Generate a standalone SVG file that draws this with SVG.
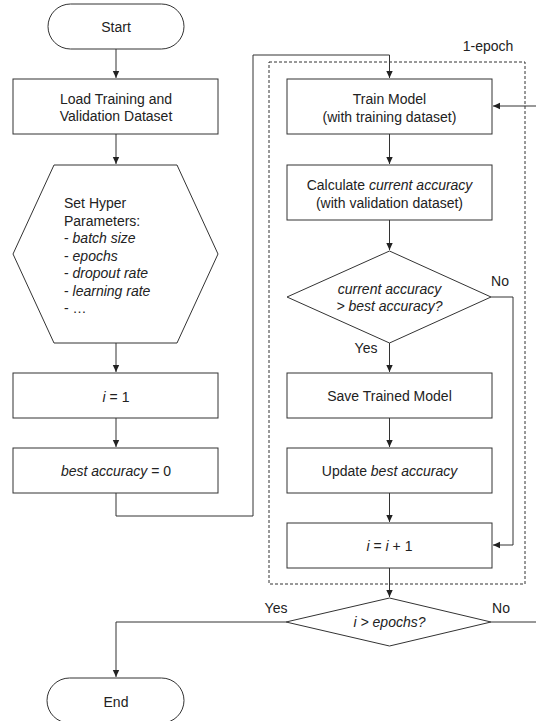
<svg xmlns="http://www.w3.org/2000/svg" width="536" height="721" viewBox="0 0 536 721">
<style>
.s{fill:#fff;stroke:#333;stroke-width:1}
.t{font-family:"Liberation Sans",Arial,sans-serif;font-size:14px;fill:#222;text-anchor:middle}
.l{text-anchor:start}
.i{font-style:italic}
.c{fill:none;stroke:#333;stroke-width:1}
</style>
<defs>
<marker id="a" markerWidth="8" markerHeight="8" refX="7" refY="4" orient="auto" markerUnits="userSpaceOnUse">
<path d="M0,0.8 L7,4 L0,7.2 Z" fill="#222"/>
</marker>
</defs>
<rect width="536" height="721" fill="#fff"/>
<g id="frame">
<rect x="269" y="62" width="256" height="522" fill="none" stroke="#333" stroke-width="1" stroke-dasharray="3,2"/>
<text class="t" x="488" y="51">1-epoch</text>
</g>
<g id="connectors">
<path class="c" d="M116,49 V78" marker-end="url(#a)"/>
<path class="c" d="M116,134 V164" marker-end="url(#a)"/>
<path class="c" d="M116,343 V372" marker-end="url(#a)"/>
<path class="c" d="M116,418 V447" marker-end="url(#a)"/>
<path class="c" d="M116,493 V516 H253 V55 H389.5 V78" marker-end="url(#a)"/>
<path class="c" d="M389.5,134 V164" marker-end="url(#a)"/>
<path class="c" d="M389.5,220 V250" marker-end="url(#a)"/>
<path class="c" d="M389.5,343 V372" marker-end="url(#a)"/>
<path class="c" d="M389.5,418 V447" marker-end="url(#a)"/>
<path class="c" d="M389.5,493 V522" marker-end="url(#a)"/>
<path class="c" d="M491,297 H513 V545 H493" marker-end="url(#a)"/>
<path class="c" d="M389.5,568 V597" marker-end="url(#a)"/>
<path class="c" d="M286,622 H116 V677" marker-end="url(#a)"/>
<path class="c" d="M491,622 H545 V106 H493" marker-end="url(#a)"/>
<text class="t" x="366" y="353">Yes</text>
<text class="t" x="500" y="286">No</text>
<text class="t" x="276" y="613">Yes</text>
<text class="t" x="501" y="613">No</text>
</g>
<g id="start">
<rect class="s" x="48" y="4" width="136" height="45" rx="22.5"/>
<text class="t" x="116" y="32">Start</text>
</g>
<g id="load">
<rect class="s" x="13" y="79" width="205" height="55"/>
<text class="t" x="116" y="104">Load Training and</text>
<text class="t" x="116" y="121">Validation Dataset</text>
</g>
<g id="hyper">
<polygon class="s" points="54,165 177,165 218,254 177,343 54,343 13,254"/>
<text class="t l" x="64" y="208">Set Hyper</text>
<text class="t l" x="64" y="225.5">Parameters:</text>
<text class="t l" x="64" y="243">- <tspan class="i">batch size</tspan></text>
<text class="t l" x="64" y="260.5">- <tspan class="i">epochs</tspan></text>
<text class="t l" x="64" y="278">- <tspan class="i">dropout rate</tspan></text>
<text class="t l" x="64" y="295.5">- <tspan class="i">learning rate</tspan></text>
<text class="t l" x="64" y="313">- …</text>
</g>
<g id="init-i">
<rect class="s" x="13" y="373" width="205" height="45"/>
<text class="t" x="116" y="402"><tspan class="i">i</tspan> = 1</text>
</g>
<g id="init-best">
<rect class="s" x="13" y="448" width="205" height="45"/>
<text class="t" x="116" y="476"><tspan class="i">best accuracy</tspan> = 0</text>
</g>
<g id="train">
<rect class="s" x="287" y="79" width="205" height="55"/>
<text class="t" x="389.5" y="104">Train Model</text>
<text class="t" x="389.5" y="121.5">(with training dataset)</text>
</g>
<g id="calc">
<rect class="s" x="287" y="165" width="205" height="55"/>
<text class="t" x="389.5" y="190">Calculate <tspan class="i">current accuracy</tspan></text>
<text class="t" x="389.5" y="208">(with validation dataset)</text>
</g>
<g id="compare">
<polygon class="s" points="389.5,251 491,297 389.5,343 287,297"/>
<text class="t i" x="389.5" y="294">current accuracy</text>
<text class="t i" x="389.5" y="311">&gt; best accuracy?</text>
</g>
<g id="save">
<rect class="s" x="287" y="373" width="205" height="45"/>
<text class="t" x="389.5" y="401">Save Trained Model</text>
</g>
<g id="update">
<rect class="s" x="287" y="448" width="205" height="45"/>
<text class="t" x="389.5" y="476">Update <tspan class="i">best accuracy</tspan></text>
</g>
<g id="increment">
<rect class="s" x="287" y="523" width="205" height="45"/>
<text class="t" x="389.5" y="551"><tspan class="i">i</tspan> = <tspan class="i">i</tspan> + 1</text>
</g>
<g id="check-epochs">
<polygon class="s" points="389.5,598 491,622 389.5,646 286,622"/>
<text class="t i" x="389.5" y="627">i &gt; epochs?</text>
</g>
<g id="end">
<rect class="s" x="47" y="678" width="137" height="45" rx="22.5"/>
<text class="t" x="116" y="707">End</text>
</g>
</svg>
